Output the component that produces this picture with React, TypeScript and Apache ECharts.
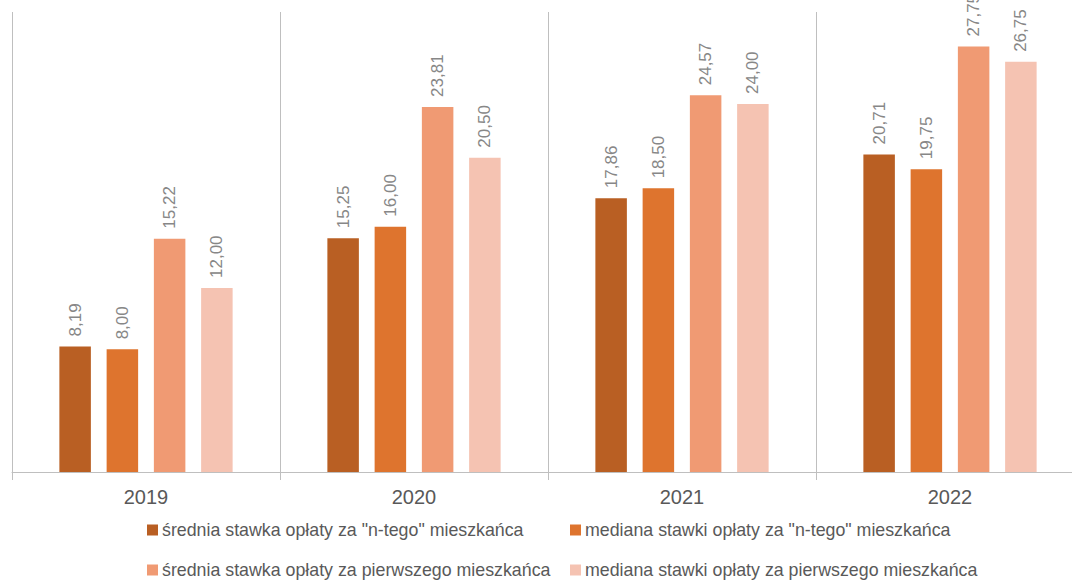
import React, { useEffect, useRef } from "react";
import * as echarts from "echarts";

const categories = ["2019", "2020", "2021", "2022"];
const seriesNames = [
  'średnia stawka opłaty za "n-tego" mieszkańca',
  'mediana stawki opłaty za "n-tego" mieszkańca',
  "średnia stawka opłaty za pierwszego mieszkańca",
  "mediana stawki opłaty za pierwszego mieszkańca",
];
const sredniaN = [8.19, 15.25, 17.86, 20.71];
const medianaN = [8.0, 16.0, 18.5, 19.75];
const sredniaPierwszy = [15.22, 23.81, 24.57, 27.75];
const medianaPierwszy = [12.0, 20.5, 24.0, 26.75];
const colors = ["#B95F23", "#DE742E", "#F09A73", "#F5C3B2"];

const FONT = "'Liberation Sans', Arial, sans-serif";

export default function App() {
  const ref = useRef<HTMLDivElement>(null);
  useEffect(() => {
    if (!ref.current) return;
    const chart = echarts.init(ref.current, null, { renderer: "svg" });
    const values = [sredniaN, medianaN, sredniaPierwszy, medianaPierwszy];
    chart.setOption({
      animation: false,
      textStyle: { fontFamily: FONT },
      grid: { left: 12, top: 12, right: 0, bottom: 108, containLabel: false },
      legend: {
        left: 147,
        top: 514,
        width: 920,
        padding: 0,
        orient: "horizontal",
        icon: "rect",
        itemWidth: 11,
        itemHeight: 11,
        itemGap: 8,
        textStyle: {
          fontSize: 17.8,
          color: "#595959",
          fontFamily: FONT,
          lineHeight: 32,
          width: 400,
          overflow: "none",
          padding: [0, 0, 0, -1],
        },
        data: seriesNames,
      },
      xAxis: {
        type: "category",
        data: categories,
        boundaryGap: true,
        axisLine: { show: true, lineStyle: { color: "#BFBFBF", width: 1 } },
        axisTick: { show: true, length: 8, lineStyle: { color: "#BFBFBF" } },
        splitLine: { show: true, lineStyle: { color: "#BFBFBF", width: 1 } },
        axisLabel: { fontSize: 20, color: "#595959", margin: 15, fontFamily: FONT },
      },
      yAxis: {
        type: "value",
        min: 0,
        max: 30,
        show: false,
        splitLine: { show: false },
      },
      series: values.map((v, i) => ({
        name: seriesNames[i],
        type: "bar",
        data: v,
        barWidth: 31.5,
        barGap: "50%",
        itemStyle: { color: colors[i] },
        label: {
          show: true,
          position: "top",
          rotate: 90,
          align: "left",
          verticalAlign: "middle",
          distance: 10,
          fontSize: 17,
          color: "#878787",
          fontFamily: FONT,
          formatter: (p: any) => Number(p.value).toFixed(2).replace(".", ","),
        },
      })),
    });
    return () => chart.dispose();
  }, []);
  return (
    <div style={{ position: "absolute", left: 0, top: 0, width: 1072, height: 580, overflow: "hidden" }}>
      <div ref={ref} style={{ width: 1084, height: 580 }} />
    </div>
  );
}
